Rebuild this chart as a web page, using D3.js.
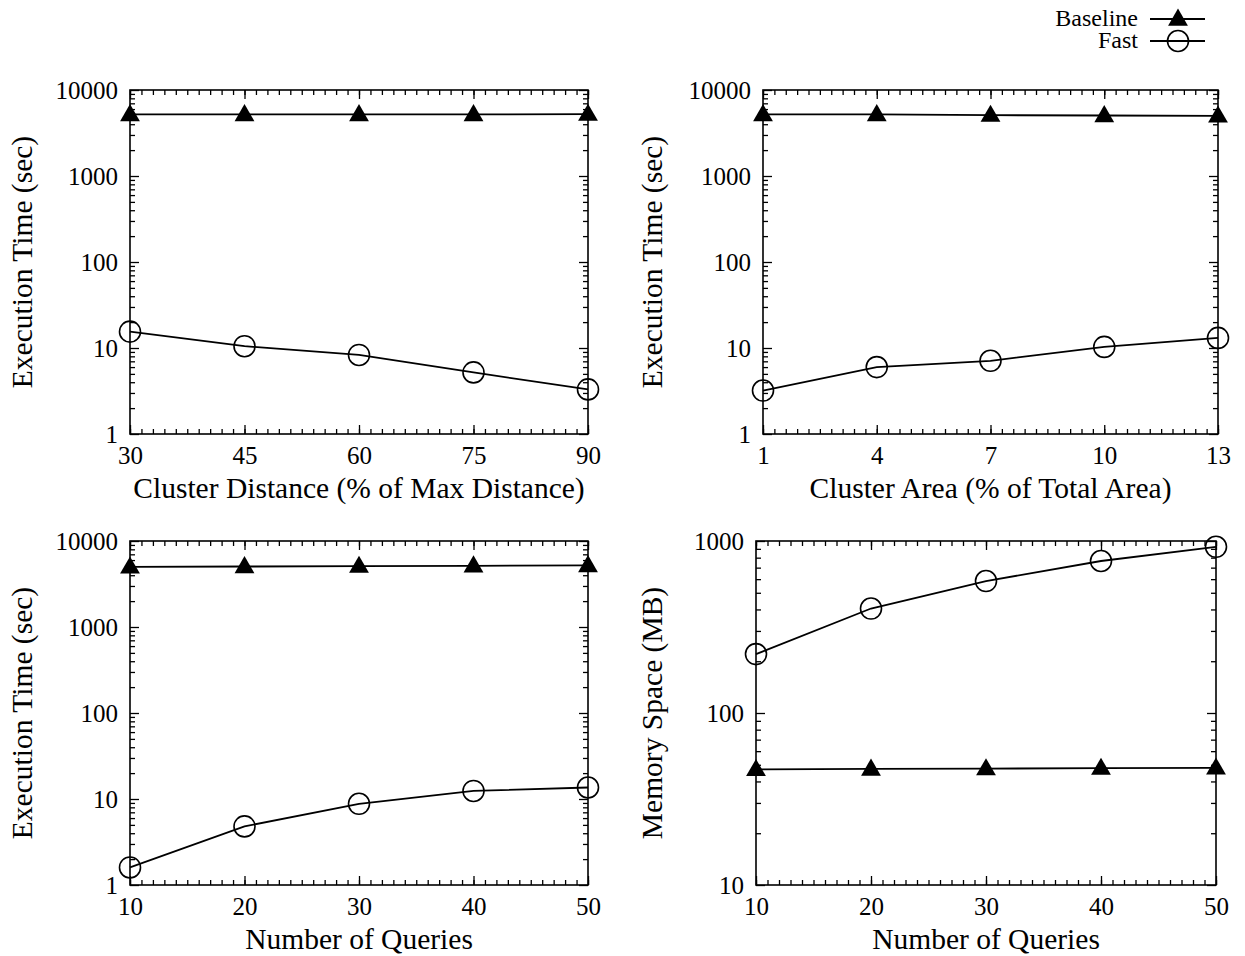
<!DOCTYPE html>
<html>
<head>
<meta charset="utf-8">
<script src="https://cdn.jsdelivr.net/npm/d3@7"></script>
<style>
	body { margin: 0; background: #fff; }
	text { font-family: "Liberation Serif", "Times New Roman", serif; fill: #000; }
</style>
</head>
<body>
<svg id="chart" width="1245" height="956"></svg>
<script>
	// values
	var distX = [30, 45, 60, 75, 90];
	var distBaseline = [5200, 5200, 5200, 5200, 5250];
	var distFast = [15.5, 10.5, 8.3, 5.2, 3.3];

	var areaX = [1, 4, 7, 10, 13];
	var areaBaseline = [5200, 5200, 5100, 5050, 5000];
	var areaFast = [3.2, 6.0, 7.1, 10.3, 13.1];

	var queryX = [10, 20, 30, 40, 50];
	var queryBaseline = [5000, 5050, 5100, 5150, 5200];
	var queryFast = [1.6, 4.8, 8.8, 12.4, 13.6];

	var memBaseline = [47, 47.3, 47.5, 47.8, 48];
	var memFast = [220, 405, 585, 765, 925];

	var timeTicks = [1, 10, 100, 1000, 10000];
	var memTicks = [10, 100, 1000];
	var seriesNames = ["Baseline", "Fast"];

	var svg = d3.select("#chart");
	var tickFont = 25, titleFont = 29.5;

	var panels = [
		{x: distX, base: distBaseline, fast: distFast, yt: timeTicks,
			xl: "Cluster Distance (% of Max Distance)", yl: "Execution Time (sec)",
			box: [130, 588, 90, 434], ylx: 32},
		{x: areaX, base: areaBaseline, fast: areaFast, yt: timeTicks,
			xl: "Cluster Area (% of Total Area)", yl: "Execution Time (sec)",
			box: [763, 1218, 90, 434], ylx: 662},
		{x: queryX, base: queryBaseline, fast: queryFast, yt: timeTicks,
			xl: "Number of Queries", yl: "Execution Time (sec)",
			box: [130, 588, 541, 885], ylx: 32},
		{x: queryX, base: memBaseline, fast: memFast, yt: memTicks,
			xl: "Number of Queries", yl: "Memory Space (MB)",
			box: [756, 1216, 541, 885], ylx: 662}
	];

	function triangle(g, cx, cy) {
		g.append("path")
			.attr("d", d3.symbol().type(d3.symbolTriangle).size(170)())
			.attr("transform", "translate(" + cx + "," + (cy + 1) + ")")
			.attr("fill", "#000");
	}
	function circle(g, cx, cy) {
		g.append("circle").attr("cx", cx).attr("cy", cy).attr("r", 10.5)
			.attr("fill", "none").attr("stroke", "#000").attr("stroke-width", 1.6);
	}

	panels.forEach(function(p) {
		var b = p.box;
		var x = d3.scaleLinear().domain([p.x[0], p.x[p.x.length - 1]]).range([b[0], b[1]]);
		var y = d3.scaleLog().domain([p.yt[0], p.yt[p.yt.length - 1]]).range([b[3], b[2]]);
		var g = svg.append("g");

		// minor ticks
		var step = (p.x[1] - p.x[0]) / 10;
		var xMinor = d3.range(0, (p.x.length - 1) * 10 + 1).map(function(i) { return p.x[0] + i * step; });
		var yMinor = [];
		p.yt.slice(0, -1).forEach(function(d) {
			for (var k = 2; k <= 9; k++) yMinor.push(d * k);
		});

		function axisPart(axis, tr, values, size, fmt) {
			var a = axis.tickValues(values).tickSize(size).tickFormat(fmt || "");
			var s = g.append("g").attr("transform", tr).call(a);
			s.select(".domain").remove();
			s.selectAll("line").attr("stroke", "#000").attr("stroke-width", 1.3);
			return s;
		}
		var bx = axisPart(d3.axisBottom(x), "translate(0," + b[3] + ")", p.x, -9, d3.format("d"));
		bx.selectAll("text").attr("y", 30).attr("dy", null).style("font-size", tickFont + "px").attr("font-family", null);
		axisPart(d3.axisBottom(x), "translate(0," + b[3] + ")", xMinor, -5);
		axisPart(d3.axisTop(x), "translate(0," + b[2] + ")", p.x, -9);
		axisPart(d3.axisTop(x), "translate(0," + b[2] + ")", xMinor, -5);

		var ly = axisPart(d3.axisLeft(y), "translate(" + b[0] + ",0)", p.yt, -9, d3.format("d"));
		ly.selectAll("text").attr("x", -12).attr("dy", "0.35em").style("font-size", tickFont + "px").attr("font-family", null);
		axisPart(d3.axisLeft(y), "translate(" + b[0] + ",0)", yMinor, -5);
		axisPart(d3.axisRight(y), "translate(" + b[1] + ",0)", p.yt, -9);
		axisPart(d3.axisRight(y), "translate(" + b[1] + ",0)", yMinor, -5);

		g.append("rect").attr("x", b[0]).attr("y", b[2])
			.attr("width", b[1] - b[0]).attr("height", b[3] - b[2])
			.attr("fill", "none").attr("stroke", "#000").attr("stroke-width", 1.6);

		// titles
		g.append("text").attr("x", (b[0] + b[1]) / 2).attr("y", b[3] + 64)
			.attr("text-anchor", "middle").style("font-size", titleFont + "px").text(p.xl);
		g.append("text").attr("transform", "translate(" + p.ylx + "," + ((b[2] + b[3]) / 2) + ") rotate(-90)")
			.attr("text-anchor", "middle").style("font-size", titleFont + "px").text(p.yl);

		// series
		var line = d3.line().x(function(d) { return x(d[0]); }).y(function(d) { return y(d[1]); });
		[p.base, p.fast].forEach(function(vals, si) {
			var pts = p.x.map(function(v, i) { return [v, vals[i]]; });
			g.append("path").datum(pts).attr("d", line)
				.attr("fill", "none").attr("stroke", "#000").attr("stroke-width", 1.8);
			pts.forEach(function(d) {
				if (si === 0) triangle(g, x(d[0]), y(d[1]));
				else circle(g, x(d[0]), y(d[1]));
			});
		});
	});

	// legend
	var lg = svg.append("g");
	seriesNames.forEach(function(name, i) {
		var yy = 19 + i * 22;
		lg.append("text").attr("x", 1138).attr("y", yy + 7).attr("text-anchor", "end")
			.style("font-size", "24px").text(name);
		lg.append("line").attr("x1", 1150).attr("x2", 1205).attr("y1", yy).attr("y2", yy)
			.attr("stroke", "#000").attr("stroke-width", 1.8);
		if (i === 0) triangle(lg, 1178, yy);
		else circle(lg, 1178, yy);
	});
</script>
</body>
</html>
